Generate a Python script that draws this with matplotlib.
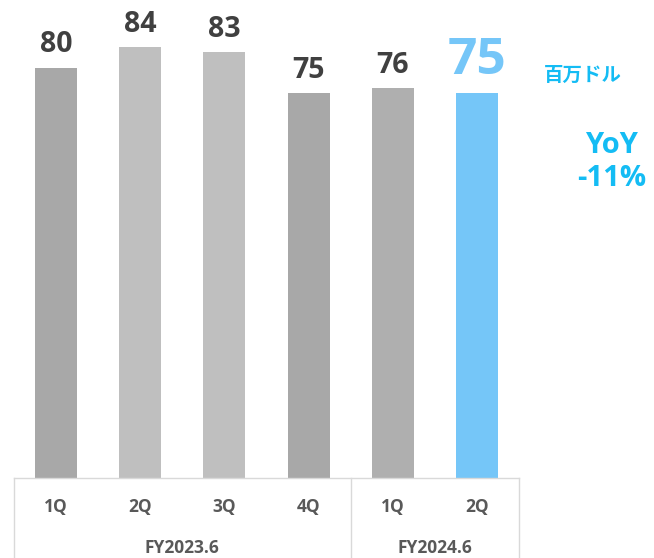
import matplotlib

matplotlib.use("Agg")
import matplotlib.pyplot as plt

plt.rcParams["font.family"] = ["Open Sans", "Noto Sans CJK JP", "DejaVu Sans"]

# data
quarters = ["1Q", "2Q", "3Q", "4Q", "1Q", "2Q"]
values = [80, 84, 83, 75, 76, 75]
bar_colors = ["#a8a8a8", "#bfbfbf", "#bfbfbf", "#a8a8a8", "#afafaf", "#75c6f8"]
groups = ["FY2023.6", "FY2024.6"]
group_spans = [(0, 3), (4, 5)]
unit_label = "百万ドル"
yoy_label = "YoY\n-11%"

W, H = 654, 558
fig = plt.figure(figsize=(W / 100, H / 100), dpi=100)
ax = fig.add_axes([14 / W, 1 - 478 / H, (519 - 14) / W, 478 / H])

x = list(range(len(values)))
ax.bar(x, values, width=0.5, color=bar_colors)
ax.set_xlim(-0.5, len(values) - 0.5)
ax.set_ylim(0, 93.2)
ax.axis("off")

# value labels (last quarter highlighted)
for i, v in enumerate(values):
    last = i == len(values) - 1
    ax.annotate(str(v), (i, v), xytext=(0, 14 if last else 11), textcoords="offset points",
                ha="center", va="baseline", fontsize=37 if last else 20.5, fontweight="bold",
                color="#75c6f8" if last else "#404040", annotation_clip=False)

# category table under the bars
tr = ax.get_xaxis_transform()
line_kw = dict(color="#d9d9d9", lw=1.0, transform=tr, clip_on=False)
bottom = -82 / 478
ax.plot([-0.5, len(values) - 0.5], [0, 0], **line_kw)
for xv in (-0.5, 3.5, len(values) - 0.5):
    ax.plot([xv, xv], [0, bottom], **line_kw)
for i, q in enumerate(quarters):
    ax.text(i, -29 / 478, q, transform=tr, ha="center", va="center",
            fontsize=12.5, fontweight="bold", color="#595959")
for g, (a, b) in zip(groups, group_spans):
    ax.text((a + b) / 2, -70 / 478, g, transform=tr, ha="center", va="center",
            fontsize=12.5, fontweight="bold", color="#595959")

# side notes
fig.text(583 / W, 1 - 76 / H, unit_label, ha="center", va="center",
         fontsize=14, fontweight="bold", color="#14bcf4")
fig.text(612 / W, 1 - 162 / H, yoy_label, ha="center", va="center",
         fontsize=21, fontweight="bold", color="#14bcf4", linespacing=1.15)

fig.savefig("out.png", dpi=100)
